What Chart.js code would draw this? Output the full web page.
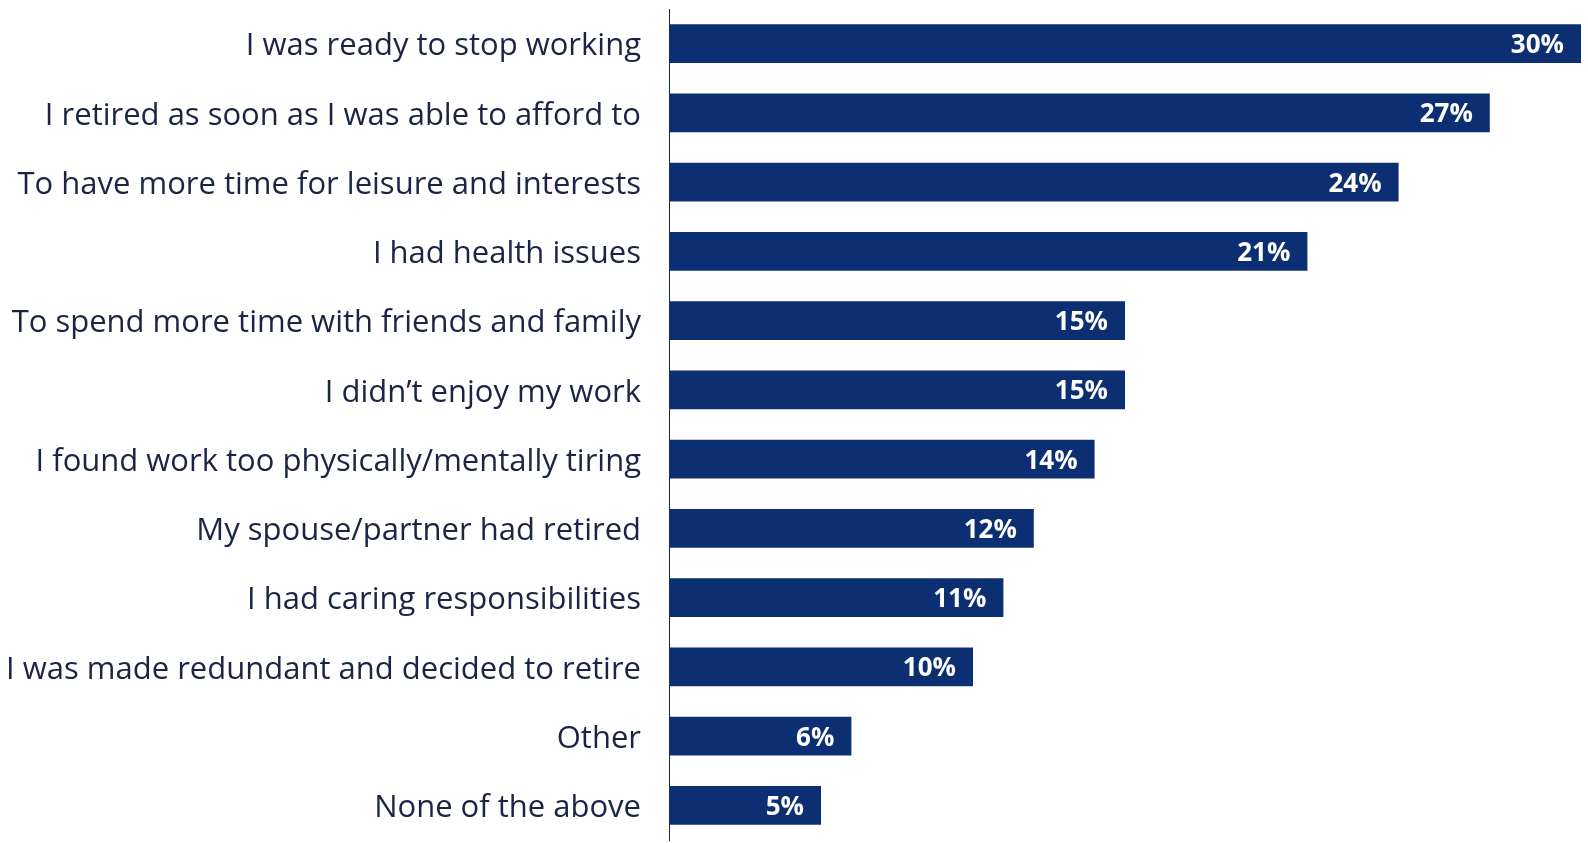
<!DOCTYPE html>
<html>
<head>
<meta charset="utf-8">
<script src="https://cdn.jsdelivr.net/npm/chart.js@4.4.1/dist/chart.umd.min.js"></script>
<style>
  html, body { margin: 0; padding: 0; background: #ffffff; }
  #wrap { width: 1588px; height: 843px; position: relative; }
</style>
</head>
<body>
<div id="wrap"><canvas id="reasonsChart"></canvas></div>
<script>
const reasons = ['I was ready to stop working',
                 'I retired as soon as I was able to afford to',
                 'To have more time for leisure and interests',
                 'I had health issues',
                 'To spend more time with friends and family',
                 'I didn\u2019t enjoy my work',
                 'I found work too physically/mentally tiring',
                 'My spouse/partner had retired',
                 'I had caring responsibilities',
                 'I was made redundant and decided to retire',
                 'Other',
                 'None of the above'];
const shares = [30, 27, 24, 21, 15, 15, 14, 12, 11, 10, 6, 5];

const barColor = '#0c2f73';
const textColor = '#1b2444';

// write the percentage inside the right end of each bar
const valueLabels = {
  id: 'valueLabels',
  afterDatasetsDraw(chart) {
    const ctx = chart.ctx;
    const meta = chart.getDatasetMeta(0);
    ctx.save();
    ctx.font = 'bold 26px "Open Sans"';
    ctx.fillStyle = '#ffffff';
    ctx.textAlign = 'right';
    ctx.textBaseline = 'middle';
    meta.data.forEach((bar, i) => {
      ctx.fillText(shares[i] + '%', bar.x - 17, bar.y + 2);
    });
    ctx.restore();
  }
};

new Chart(document.getElementById('reasonsChart'), {
  type: 'bar',
  data: {
    labels: reasons,
    datasets: [{
      data: shares,
      backgroundColor: barColor,
      borderWidth: 0,
      barPercentage: 0.563,
      categoryPercentage: 1.0
    }]
  },
  options: {
    indexAxis: 'y',
    responsive: true,
    maintainAspectRatio: false,
    animation: false,
    layout: { padding: { top: 9, bottom: 3, right: 7, left: 0 } },
    plugins: {
      legend: { display: false },
      tooltip: { enabled: false }
    },
    scales: {
      x: {
        min: 0,
        max: 30,
        display: false
      },
      y: {
        afterFit: function(scale) {
          // fixed gutter for the labels, no extra room above/below
          scale.width = 669;
          scale.paddingTop = 0;
          scale.paddingBottom = 0;
        },
        border: { display: true, color: '#1b2444', width: 1 },
        grid: { display: false, drawTicks: false },
        ticks: {
          padding: 28,
          labelOffset: 3,
          color: textColor,
          font: { family: 'Open Sans', size: 31 }
        }
      }
    }
  },
  plugins: [valueLabels]
});
</script>
</body>
</html>
